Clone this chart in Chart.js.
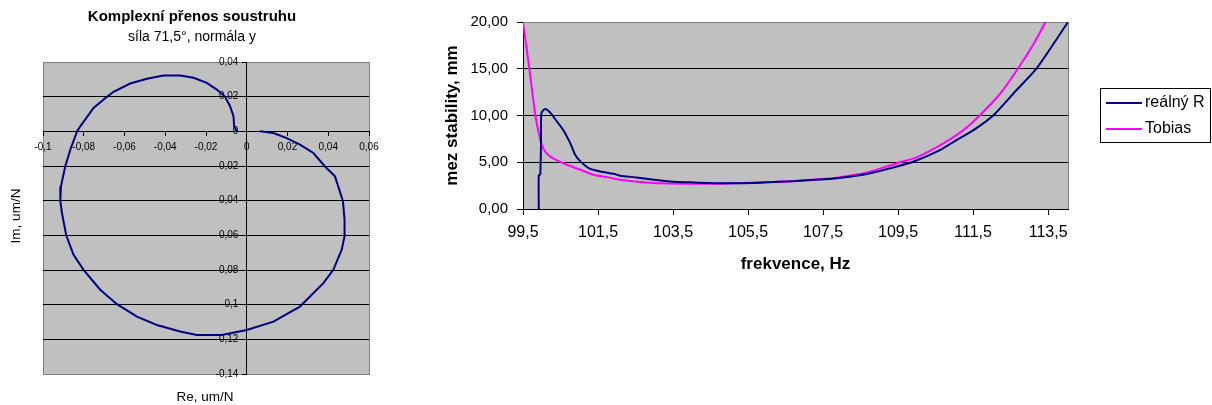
<!DOCTYPE html>
<html>
<head>
<meta charset="utf-8">
<title>Komplexní přenos soustruhu</title>
<script src="https://cdn.jsdelivr.net/npm/chart.js@4.4.1/dist/chart.umd.min.js"></script>
<style>
  body { margin: 0; background: #fff; }
  #wrap { position: relative; width: 1212px; height: 405px; }
  canvas { position: absolute; top: 0; }
  #nyquist { left: 0; }
  #stability { left: 420px; }
</style>
</head>
<body>
<div id="wrap">
  <canvas id="nyquist" width="420" height="405"></canvas>
  <canvas id="stability" width="792" height="405"></canvas>
</div>
<script>
// Left chart: complex transfer (Re, Im), um/N
const re = [-0.0049, -0.0062, -0.0065, -0.0082, -0.0106, -0.0147, -0.0196, -0.0261, -0.0327, -0.0408,
  -0.049, -0.0572, -0.0654, -0.0686, -0.0752, -0.0817, -0.0833, -0.0866, -0.0891, -0.0912,
  -0.0915, -0.0907, -0.0886, -0.085, -0.0801, -0.0719, -0.0637, -0.0539, -0.0441, -0.0327,
  -0.0245, -0.0123, 0, 0.0131, 0.0261, 0.0376, 0.0425, 0.0466, 0.0481, 0.0480,
  0.0472, 0.0433, 0.0384, 0.0327, 0.0261, 0.0196, 0.0131, 0.0065];
const im = [0, 0.0029, 0.0087, 0.0145, 0.0199, 0.0241, 0.028, 0.0309, 0.0322, 0.0322,
  0.0303, 0.0276, 0.0228, 0.0199, 0.0135, 0.0029, 0, -0.0106, -0.0203, -0.0318,
  -0.0401, -0.0471, -0.06, -0.0712, -0.0799, -0.0914, -0.0997, -0.1069, -0.1117, -0.1155,
  -0.1175, -0.1175, -0.1146, -0.1098, -0.1011, -0.0876, -0.0799, -0.0683, -0.06, -0.0511,
  -0.0401, -0.026, -0.0203, -0.0125, -0.0077, -0.0039, -0.001, 0];
const reTicks = [-0.1, -0.08, -0.06, -0.04, -0.02, 0, 0.02, 0.04, 0.06];
const imTicks = [-0.14, -0.12, -0.1, -0.08, -0.06, -0.04, -0.02, 0, 0.02, 0.04];

// Right chart: stability limit vs. frequency
const freqR = [99.92, 99.92, 99.96, 99.98, 99.99, 100.09, 100.23, 100.36, 100.58, 100.76,
  100.89, 101.03, 101.25, 101.56, 101.92, 102.09, 102.54, 102.98, 103.43, 104.0,
  104.76, 105.65, 106.54, 107.43, 107.78, 108.67, 109.47, 109.92, 110.63, 111.07,
  111.52, 112.05, 112.58, 113.16, 113.65, 114.03];
const realR = [0, 3.6, 3.7, 7.0, 10.24, 10.7, 10.3, 9.6, 8.4, 7.04,
  5.8, 5.09, 4.38, 4.02, 3.77, 3.56, 3.37, 3.13, 2.95, 2.85,
  2.75, 2.78, 2.95, 3.15, 3.25, 3.75, 4.55, 5.08, 6.33, 7.4,
  8.46, 10.06, 12.38, 14.87, 17.7, 20.0];
const freqT = [99.5, 99.67, 99.83, 99.94, 100.0, 100.09, 100.23, 100.41, 100.67, 101.03,
  101.38, 101.74, 102.09, 102.98, 103.87, 104.76, 105.65, 106.54, 107.43, 107.78,
  108.67, 109.47, 110.01, 110.72, 111.25, 111.69, 112.23, 112.67, 113.12, 113.43];
const tobias = [20.0, 15.0, 10.0, 7.75, 6.86, 6.15, 5.6, 5.19, 4.73, 4.2,
  3.66, 3.41, 3.13, 2.77, 2.7, 2.7, 2.84, 2.95, 3.2, 3.3,
  3.9, 4.9, 5.55, 7.04, 8.46, 10.06, 12.38, 14.87, 17.7, 20.0];
const freqTicks = [99.5, 101.5, 103.5, 105.5, 107.5, 109.5, 111.5, 113.5];
const stabTicks = [0, 5, 10, 15, 20];

const FONT = '"Liberation Sans", Arial, sans-serif';
Chart.defaults.font.family = FONT;
Chart.defaults.color = '#000';

const toPoints = (xs, ys) => xs.map((x, i) => ({ x: x, y: ys[i] }));
const comma = (v, d) => (d === undefined ? String(Math.round(v * 100) / 100) : v.toFixed(d)).replace('.', ',');
const setTicks = (list) => (scale) => { scale.ticks = list.map((v) => ({ value: v })); };

// gray plot area with a gray frame (Excel look)
const plotBg = {
  id: 'plotBg',
  beforeDraw(chart) {
    const { ctx, chartArea: a } = chart;
    ctx.save();
    ctx.fillStyle = '#c0c0c0';
    ctx.fillRect(a.left, a.top, a.right - a.left, a.bottom - a.top);
    ctx.strokeStyle = '#808080';
    ctx.lineWidth = 1;
    ctx.strokeRect(Math.round(a.left) + 0.5, Math.round(a.top) + 0.5, Math.round(a.right - a.left), Math.round(a.bottom - a.top));
    ctx.restore();
  }
};

// texts of the left chart
const nyquistTexts = {
  id: 'nyquistTexts',
  afterDraw(chart) {
    const ctx = chart.ctx;
    ctx.save();
    ctx.fillStyle = '#000';
    ctx.textAlign = 'center';
    ctx.textBaseline = 'middle';
    ctx.font = 'bold 15px ' + FONT;
    ctx.fillText('Komplexní přenos soustruhu', 192, 17);
    ctx.font = '14px ' + FONT;
    ctx.fillText('síla 71,5°, normála y', 192, 37);
    ctx.font = '13.5px ' + FONT;
    ctx.fillText('Re, um/N', 205, 397);
    ctx.translate(16, 216);
    ctx.rotate(-Math.PI / 2);
    ctx.fillText('Im, um/N', 0, 0);
    ctx.restore();
  }
};

new Chart(document.getElementById('nyquist'), {
  type: 'scatter',
  data: {
    datasets: [{
      label: 'přenos',
      data: toPoints(re, im),
      showLine: true,
      borderColor: '#000080',
      borderWidth: 2,
      pointRadius: 0,
      tension: 0
    }]
  },
  options: {
    responsive: false,
    animation: false,
    layout: { padding: { left: 43, right: 51, top: 62, bottom: 31 } },
    plugins: { legend: { display: false }, tooltip: { enabled: false } },
    scales: {
      x: {
        type: 'linear',
        position: { y: 0 },
        min: -0.1,
        max: 0.06,
        afterBuildTicks: setTicks(reTicks),
        grid: { drawOnChartArea: false, tickLength: 4, color: '#000' },
        border: { color: '#000', width: 1 },
        ticks: { font: { size: 10 }, padding: 6, maxRotation: 0, autoSkip: false, callback: (v) => comma(v) }
      },
      y: {
        type: 'linear',
        position: { x: 0 },
        min: -0.14,
        max: 0.04,
        afterBuildTicks: setTicks(imTicks),
        grid: {
          tickLength: 4,
          tickColor: '#000',
          color: (c) => (c.tick && (c.tick.value === 0.04 || c.tick.value === -0.14)) ? 'rgba(0,0,0,0)' : '#000'
        },
        border: { color: '#000', width: 1 },
        // labels sit right of the crossing axis, so pad them with spaces
        ticks: { font: { size: 10 }, padding: 3, autoSkip: false, callback: (v) => comma(v) + '   ' }
      }
    }
  },
  plugins: [plotBg, nyquistTexts]
});

// legend of the right chart, drawn as a framed box
const legendBox = {
  id: 'legendBox',
  afterDraw(chart) {
    const ctx = chart.ctx;
    ctx.save();
    ctx.strokeStyle = '#000';
    ctx.lineWidth = 1;
    ctx.strokeRect(680.5, 88.5, 110, 54);
    ctx.font = '16px ' + FONT;
    ctx.textAlign = 'left';
    ctx.textBaseline = 'middle';
    chart.data.datasets.forEach((ds, i) => {
      const y = 103 + i * 26;
      ctx.strokeStyle = ds.borderColor;
      ctx.lineWidth = 2;
      ctx.beginPath();
      ctx.moveTo(686, y);
      ctx.lineTo(722, y);
      ctx.stroke();
      ctx.fillStyle = '#000';
      ctx.fillText(ds.label, 725, y);
    });
    ctx.restore();
  }
};

new Chart(document.getElementById('stability'), {
  type: 'scatter',
  data: {
    datasets: [
      {
        label: 'reálný R',
        data: toPoints(freqR, realR),
        showLine: true,
        borderColor: '#000080',
        borderWidth: 2,
        pointRadius: 0,
        tension: 0.2
      },
      {
        label: 'Tobias',
        data: toPoints(freqT, tobias),
        showLine: true,
        borderColor: '#ff00ff',
        borderWidth: 2,
        pointRadius: 0,
        tension: 0.2
      }
    ]
  },
  options: {
    responsive: false,
    animation: false,
    layout: { padding: { left: 18, right: 144, top: 22, bottom: 126 } },
    plugins: { legend: { display: false }, tooltip: { enabled: false } },
    scales: {
      x: {
        type: 'linear',
        min: 99.5,
        max: 114.03,
        afterBuildTicks: setTicks(freqTicks),
        afterFit: (s) => { s.height = 70; },
        grid: { drawOnChartArea: false, tickLength: 6, color: '#000' },
        border: { color: '#000', width: 1 },
        ticks: { font: { size: 16 }, padding: 8, maxRotation: 0, autoSkip: false, callback: (v) => comma(v, 1) },
        title: { display: true, text: 'frekvence, Hz', font: { size: 17, weight: 'bold' } }
      },
      y: {
        type: 'linear',
        min: 0,
        max: 20,
        afterBuildTicks: setTicks(stabTicks),
        afterFit: (s) => { s.width = 85; },
        grid: {
          tickLength: 6,
          tickColor: '#000',
          color: (c) => (c.tick && c.tick.value === 20) ? '#808080' : '#000'
        },
        border: { color: '#000', width: 1 },
        ticks: { font: { size: 15 }, padding: 9, callback: (v) => comma(v, 2) },
        title: { display: true, text: 'mez stability, mm', font: { size: 17, weight: 'bold' } }
      }
    }
  },
  plugins: [plotBg, legendBox]
});
</script>
</body>
</html>
